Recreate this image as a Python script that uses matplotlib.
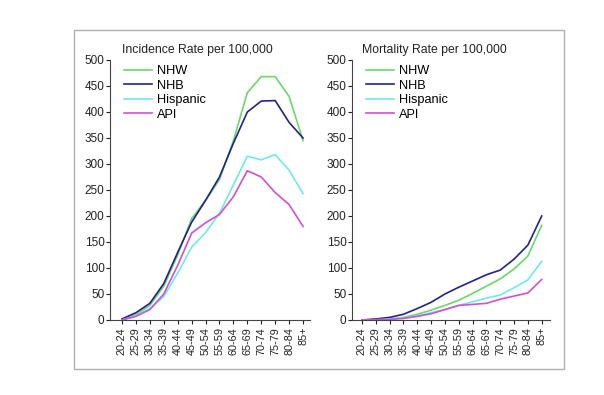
import matplotlib
matplotlib.use("Agg")
import matplotlib.pyplot as plt
from matplotlib.patches import Rectangle

plt.rcParams['font.family'] = ['Liberation Sans', 'DejaVu Sans']

age_groups = ["20-24", "25-29", "30-34", "35-39", "40-44", "45-49", "50-54",
              "55-59", "60-64", "65-69", "70-74", "75-79", "80-84", "85+"]
series_names = ["NHW", "NHB", "Hispanic", "API"]
series_colors = ["#6ad86a", "#22228a", "#6eeaea", "#d24fd2"]

incidence_nhw = [0, 10, 28, 65, 125, 195, 230, 270, 345, 437, 468, 468, 430, 345]
incidence_nhb = [2, 14, 32, 70, 130, 188, 230, 275, 340, 400, 421, 422, 380, 350]
incidence_hispanic = [0, 8, 22, 45, 90, 140, 168, 205, 260, 315, 308, 318, 288, 243]
incidence_api = [0, 7, 20, 50, 105, 167, 187, 203, 237, 287, 275, 245, 222, 180]

mortality_nhw = [0, 1, 2, 5, 11, 19, 28, 38, 51, 65, 79, 98, 123, 182]
mortality_nhb = [0, 2, 5, 11, 22, 34, 50, 63, 75, 87, 96, 117, 144, 200]
mortality_hispanic = [0, 0.5, 1.5, 4, 8, 14, 20, 28, 35, 42, 48, 62, 77, 113]
mortality_api = [0, 0.5, 1, 3, 7, 12, 20, 28, 30, 32, 40, 46, 52, 78]

y_ticks = [0, 50, 100, 150, 200, 250, 300, 350, 400, 450, 500]
titles = ["Incidence Rate per 100,000", "Mortality Rate per 100,000"]

fig = plt.figure(figsize=(6.04, 3.95), dpi=100)
fig.patch.set_facecolor("white")

# outer frame
fig.patches.append(Rectangle((74 / 604, 1 - 369 / 395), (564 - 74) / 604, (369 - 30) / 395,
                             transform=fig.transFigure, fill=False,
                             edgecolor="#b0b0b0", linewidth=1.0))

panels = [
    dict(rect=[110 / 604, 1 - 320 / 395, 200 / 604, 260 / 395], xlim=(-0.86, 13.5),
         data=[incidence_nhw, incidence_nhb, incidence_hispanic, incidence_api]),
    dict(rect=[352 / 604, 1 - 320 / 395, 198 / 604, 260 / 395], xlim=(-0.72, 13.6),
         data=[mortality_nhw, mortality_nhb, mortality_hispanic, mortality_api]),
]

x = list(range(len(age_groups)))
for p, title in zip(panels, titles):
    ax = fig.add_axes(p["rect"])
    for name, color, vals in zip(series_names, series_colors, p["data"]):
        ax.plot(x, vals, color=color, linewidth=1.2, label=name)
    ax.set_xlim(*p["xlim"])
    ax.set_ylim(0, 500)
    ax.set_yticks(y_ticks)
    ax.set_xticks(x)
    ax.set_xticklabels(age_groups, rotation=90, fontsize=7.8)
    ax.tick_params(axis="y", labelsize=8.5, length=3, width=0.8, pad=1, colors="#222222")
    ax.tick_params(axis="x", length=3, width=0.8, pad=2, colors="#222222")
    for s in ["top", "right"]:
        ax.spines[s].set_visible(False)
    for s in ["left", "bottom"]:
        ax.spines[s].set_color("#444444")
        ax.spines[s].set_linewidth(0.8)
    ax.text(0, 507, title, fontsize=8.8, ha="left", va="bottom", color="#222222")
    ax.legend(loc="upper left", bbox_to_anchor=(0.045, 1.0), frameon=False,
              fontsize=9.2, handlelength=2.2, handletextpad=0.4,
              labelspacing=0.2, borderaxespad=0.3, borderpad=0.1)

fig.savefig("out.png", dpi=100)
